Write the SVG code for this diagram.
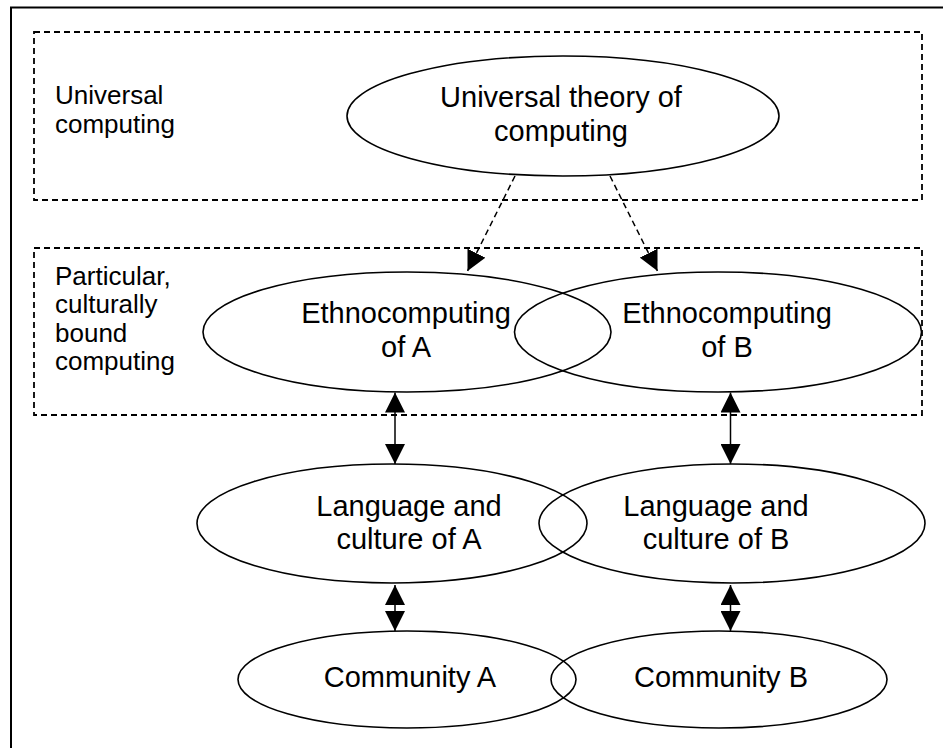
<svg xmlns="http://www.w3.org/2000/svg" width="943" height="748" viewBox="0 0 943 748">
<style>
.frame{fill:none;stroke:#000;stroke-width:2}
.zone{fill:none;stroke:#000;stroke-width:1.8;stroke-dasharray:6 4}
.node{fill:none;stroke:#000;stroke-width:1.6}
.t{font-family:"Liberation Sans",Arial,sans-serif;font-size:29px;fill:#000;text-anchor:middle}
.lbl{font-family:"Liberation Sans",Arial,sans-serif;font-size:26px;fill:#000}
.dash{fill:none;stroke:#000;stroke-width:1.5;stroke-dasharray:6 4}
.solid{fill:none;stroke:#000;stroke-width:1.5}
</style>
<defs>
<marker id="ah" viewBox="0 0 20 20" refX="20" refY="10" markerWidth="20" markerHeight="20" markerUnits="userSpaceOnUse" orient="auto-start-reverse">
<path d="M0,0 L20,10 L0,20 Z" fill="#000" stroke="none"/>
</marker>
</defs>
<rect width="943" height="748" fill="#fff"/>
<path class="frame" d="M11,748 V7.5 H943"/>
<g id="zone-universal">
<rect class="zone" x="34" y="32" width="888" height="168"/>
<text class="lbl" x="55" y="104">Universal</text>
<text class="lbl" x="55" y="132.5">computing</text>
</g>
<g id="zone-particular">
<rect class="zone" x="34" y="248" width="888" height="167"/>
<text class="lbl" x="55" y="285">Particular,</text>
<text class="lbl" x="55" y="313">culturally</text>
<text class="lbl" x="55" y="341.5">bound</text>
<text class="lbl" x="55" y="370">computing</text>
</g>
<g id="universal-theory">
<ellipse class="node" cx="563" cy="116" rx="216" ry="60"/>
<text class="t" x="561" y="107">Universal theory of</text>
<text class="t" x="561" y="141">computing</text>
</g>
<g id="ethno-a">
<ellipse class="node" cx="407" cy="332" rx="204" ry="60"/>
<text class="t" x="406" y="323">Ethnocomputing</text>
<text class="t" x="406" y="357">of A</text>
</g>
<g id="ethno-b">
<ellipse class="node" cx="718" cy="332" rx="203.5" ry="60"/>
<text class="t" x="727" y="323">Ethnocomputing</text>
<text class="t" x="727" y="357">of B</text>
</g>
<g id="lang-a">
<ellipse class="node" cx="392" cy="523.5" rx="195" ry="59.5"/>
<text class="t" x="409" y="516">Language and</text>
<text class="t" x="409" y="549">culture of A</text>
</g>
<g id="lang-b">
<ellipse class="node" cx="732" cy="523.5" rx="193" ry="59.5"/>
<text class="t" x="716" y="516">Language and</text>
<text class="t" x="716" y="549">culture of B</text>
</g>
<g id="community-a">
<ellipse class="node" cx="407" cy="679.5" rx="169" ry="48.5"/>
<text class="t" x="410" y="687">Community A</text>
</g>
<g id="community-b">
<ellipse class="node" cx="719" cy="679.5" rx="168" ry="48.5"/>
<text class="t" x="721" y="687">Community B</text>
</g>
<g id="connectors">
<path class="dash" d="M515,176 L467.5,271" marker-end="url(#ah)"/>
<path class="dash" d="M610,176 L657.5,271" marker-end="url(#ah)"/>
<path class="solid" d="M395,392.5 V464" marker-start="url(#ah)" marker-end="url(#ah)"/>
<path class="solid" d="M730.5,392.5 V464" marker-start="url(#ah)" marker-end="url(#ah)"/>
<path class="solid" d="M395,585 V631" marker-start="url(#ah)" marker-end="url(#ah)"/>
<path class="solid" d="M730.5,585 V631" marker-start="url(#ah)" marker-end="url(#ah)"/>
</g>
</svg>
